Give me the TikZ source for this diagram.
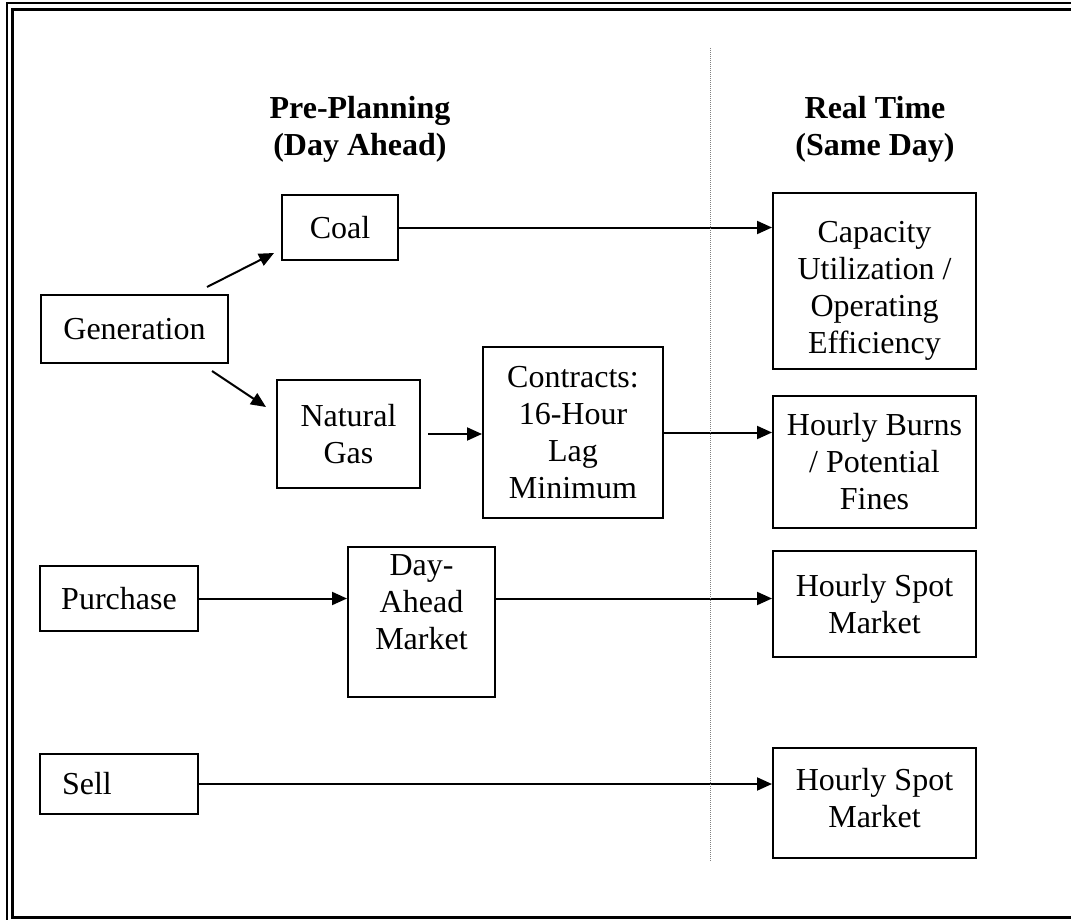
\documentclass[tikz,border=0pt]{standalone}
\usepackage{fontspec}
\setmainfont{Liberation Serif}
\usetikzlibrary{arrows.meta,calc}
\tikzstyle{block} = [rectangle, draw, line width=1pt, align=center, inner sep=0pt,
    font=\fontsize{16}{18.5}\selectfont]
\tikzstyle{head} = [align=center, font=\fontsize{16}{18.5}\selectfont\bfseries]
\tikzstyle{line} = [draw, line width=1pt, -{Triangle[length=7.5pt,width=6.5pt]}]
\tikzstyle{divider} = [draw, gray, line width=0.5pt, dash pattern=on 0.5pt off 0.5pt]

\begin{document}
\begin{tikzpicture}[x=0.5pt,y=-0.5pt]
    \useasboundingbox (0,0) rectangle (1071,920);
    \clip (0,0) rectangle (1071,920);
    % Frame
    \draw[line width=1pt] (7,3.5) rectangle (1095,935);
    \draw[line width=1.5pt] (12.5,9.5) rectangle (1085,917.5);
    % Place nodes
    \node[head] (pre) at (360,129) {Pre-Planning\\(Day Ahead)};
    \node[head] (real) at (875,129) {Real Time\\(Same Day)};
    \node[block, minimum width=93.5pt, minimum height=34pt] (gen) at (134.5,329) {Generation};
    \node[block, minimum width=58pt, minimum height=32.5pt] (coal) at (340,227.5) {Coal};
    \node[block, minimum width=71.5pt, minimum height=54pt] (ng) at (348.5,434) {Natural\\Gas};
    \node[block, minimum width=90pt, minimum height=85.5pt] (contracts) at (573,432.5) {Contracts:\\16-Hour\\Lag\\Minimum};
    \node[block, minimum width=101.5pt, minimum height=88pt, text height=76pt] (capacity) at (874.5,281) {Capacity\\Utilization /\\Operating\\Efficiency};
    \node[block, minimum width=101.5pt, minimum height=66pt] (burns) at (874.5,462) {Hourly Burns\\/ Potential\\Fines};
    \node[block, minimum width=79pt, minimum height=32.5pt] (purchase) at (119,598.5) {Purchase};
    \node[block, minimum width=73.5pt, minimum height=75pt, text depth=20pt] (dayahead) at (421.5,622) {Day-\\Ahead\\Market};
    \node[block, minimum width=101.5pt, minimum height=53pt] (spot1) at (874.5,604) {Hourly Spot\\Market};
    \node[block, text width=57pt, inner xsep=11pt, align=left, minimum height=30pt] (sell) at (119,784) {Sell};
    \node[block, minimum width=101.5pt, minimum height=55pt, text depth=5pt] (spot2) at (874.5,803) {Hourly Spot\\Market};
    \coordinate (g1) at ($(gen.north east)+(-22,-7)$);
    \coordinate (c1) at ($(coal.south west)+(-7,-8)$);
    \coordinate (g2) at ($(gen.south east)+(-17,7)$);
    \coordinate (n1) at ($(ng.north west)+(-10,28)$);
    \coordinate (divtop) at (710,48);
    \coordinate (divbot) at (710,862);
    % Draw edges
    \path [line] (g1) -- (c1);
    \path [line] (g2) -- (n1);
    \path [line] (coal) -- (coal -| capacity.west);
    \path [line, shorten <=3.5pt] (ng) -- (ng -| contracts.west);
    \path [line] (contracts.east) -- (contracts.east -| burns.west);
    \path [line] (purchase) -- (purchase -| dayahead.west);
    \path [line] (purchase -| dayahead.east) -- (purchase -| spot1.west);
    \path [line] (sell) -- (sell -| spot2.west);
    \path [divider] (divtop) -- (divbot);
\end{tikzpicture}
\end{document}
